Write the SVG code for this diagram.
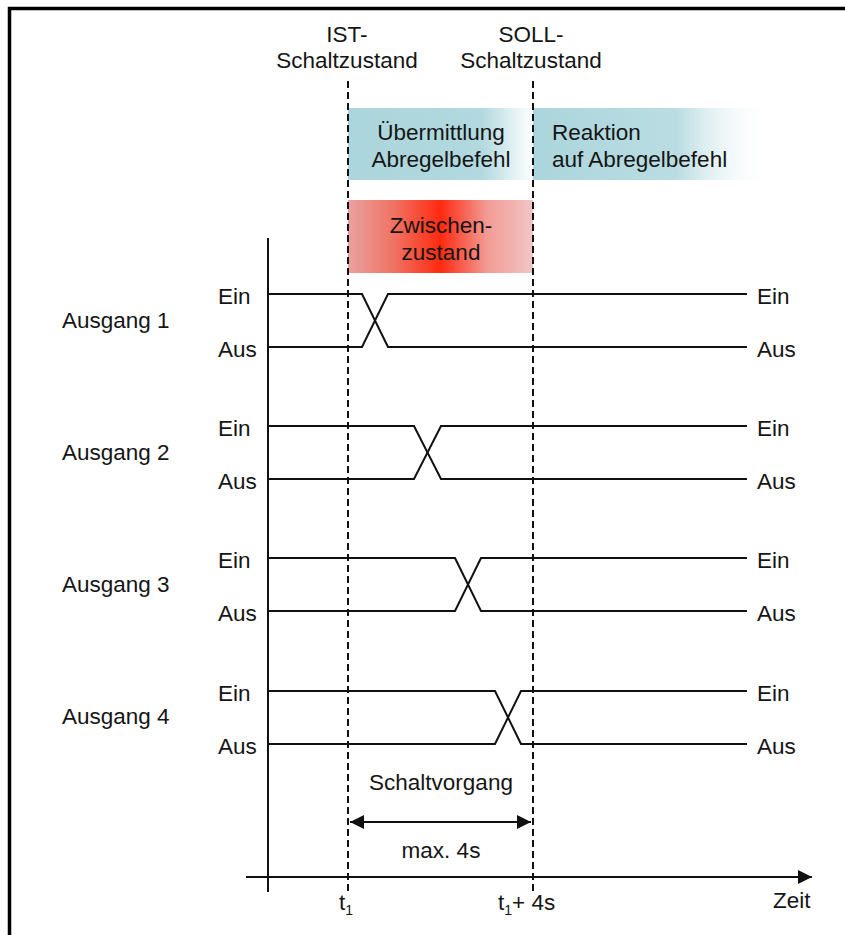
<svg xmlns="http://www.w3.org/2000/svg" width="845" height="935" viewBox="0 0 845 935">
  <style>
    text { font-family: "Liberation Sans", Arial, sans-serif; font-size: 22.5px; fill: #151515; }
    .mid { text-anchor: middle; }
    .sig { fill: none; stroke: #111; stroke-width: 2; stroke-linejoin: miter; }
    .axis { fill: none; stroke: #111; stroke-width: 2; }
    .dash { fill: none; stroke: #111; stroke-width: 2; stroke-dasharray: 7 4; }
    .sub { font-size: 14px; }
  </style>
  <defs>
    <linearGradient id="blueLeft" x1="0" y1="0" x2="1" y2="0">
      <stop offset="0" stop-color="#abd5dc"/>
      <stop offset="0.72" stop-color="#b1d9df"/>
      <stop offset="1" stop-color="#ffffff"/>
    </linearGradient>
    <linearGradient id="blueRight" x1="0" y1="0" x2="1" y2="0">
      <stop offset="0" stop-color="#abd5dc"/>
      <stop offset="0.6" stop-color="#badde3"/>
      <stop offset="1" stop-color="#ffffff" stop-opacity="0"/>
    </linearGradient>
    <linearGradient id="redBand" x1="0" y1="0" x2="1" y2="0">
      <stop offset="0" stop-color="#e9a2a2"/>
      <stop offset="0.25" stop-color="#f07262"/>
      <stop offset="0.5" stop-color="#ff2a10"/>
      <stop offset="0.75" stop-color="#f29a94"/>
      <stop offset="1" stop-color="#f0c6c6"/>
    </linearGradient>
    <marker id="arrow" viewBox="0 0 10 10" refX="10" refY="5" markerWidth="8" markerHeight="7" markerUnits="strokeWidth" orient="auto-start-reverse">
      <path d="M0,0 L10,5 L0,10 Z" fill="#111"/>
    </marker>
  </defs>

  <rect width="845" height="935" fill="#ffffff"/>

  <!-- frame -->
  <path d="M9.5,935 L9.5,8.5 L845,8.5" fill="none" stroke="#000" stroke-width="3.5"/>

  <!-- phase bands -->
  <g id="band-uebermittlung">
    <rect x="348" y="108" width="185" height="72" fill="url(#blueLeft)"/>
    <text class="mid" x="441" y="140">Übermittlung</text>
    <text class="mid" x="441" y="167">Abregelbefehl</text>
  </g>
  <g id="band-reaktion">
    <rect x="533" y="108" width="240" height="72" fill="url(#blueRight)"/>
    <text x="552" y="140">Reaktion</text>
    <text x="552" y="167">auf Abregelbefehl</text>
  </g>
  <g id="band-zwischenzustand">
    <rect x="348" y="200" width="185" height="73" fill="url(#redBand)"/>
    <text class="mid" x="441" y="233">Zwischen-</text>
    <text class="mid" x="441" y="260">zustand</text>
  </g>

  <!-- state markers -->
  <g id="ist">
    <text class="mid" x="347" y="42">IST-</text>
    <text class="mid" x="347" y="68">Schaltzustand</text>
  </g>
  <g id="soll">
    <text class="mid" x="531" y="42">SOLL-</text>
    <text class="mid" x="531" y="68">Schaltzustand</text>
  </g>

  <g id="connectors">
    <!-- time markers -->
    <line class="dash" x1="348" y1="81" x2="348" y2="892"/>
    <line class="dash" x1="533" y1="81" x2="533" y2="892"/>
    <!-- axes -->
    <line class="axis" x1="268" y1="238" x2="268" y2="892"/>
    <line class="axis" x1="246" y1="877" x2="812" y2="877" marker-end="url(#arrow)"/>
    <!-- switching window -->
    <line class="axis" x1="350" y1="822" x2="531" y2="822" marker-start="url(#arrow)" marker-end="url(#arrow)"/>
  </g>

  <!-- outputs -->
  <g id="ausgang1">
    <text x="62" y="328">Ausgang 1</text>
    <text x="218" y="304">Ein</text>
    <text x="218" y="357">Aus</text>
    <text x="757" y="304">Ein</text>
    <text x="757" y="357">Aus</text>
    <path class="sig" d="M268,294 H362 L388,347 H747"/>
    <path class="sig" d="M268,347 H362 L388,294 H747"/>
  </g>
  <g id="ausgang2">
    <text x="62" y="460">Ausgang 2</text>
    <text x="218" y="436">Ein</text>
    <text x="218" y="489">Aus</text>
    <text x="757" y="436">Ein</text>
    <text x="757" y="489">Aus</text>
    <path class="sig" d="M268,426 H414 L441,479 H747"/>
    <path class="sig" d="M268,479 H414 L441,426 H747"/>
  </g>
  <g id="ausgang3">
    <text x="62" y="592">Ausgang 3</text>
    <text x="218" y="568">Ein</text>
    <text x="218" y="621">Aus</text>
    <text x="757" y="568">Ein</text>
    <text x="757" y="621">Aus</text>
    <path class="sig" d="M268,558 H455 L481,611 H747"/>
    <path class="sig" d="M268,611 H455 L481,558 H747"/>
  </g>
  <g id="ausgang4">
    <text x="62" y="724">Ausgang 4</text>
    <text x="218" y="701">Ein</text>
    <text x="218" y="754">Aus</text>
    <text x="757" y="701">Ein</text>
    <text x="757" y="754">Aus</text>
    <path class="sig" d="M268,691 H495 L521,744 H747"/>
    <path class="sig" d="M268,744 H495 L521,691 H747"/>
  </g>

  <!-- labels -->
  <g id="schaltvorgang">
    <text class="mid" x="441" y="790">Schaltvorgang</text>
    <text class="mid" x="441" y="858">max. 4s</text>
  </g>
  <g id="time-labels">
    <text x="339" y="910">t<tspan class="sub" dy="5">1</tspan></text>
    <text x="498" y="910">t<tspan class="sub" dy="5">1</tspan><tspan dy="-5">+ 4s</tspan></text>
    <text x="773" y="908">Zeit</text>
  </g>
</svg>
